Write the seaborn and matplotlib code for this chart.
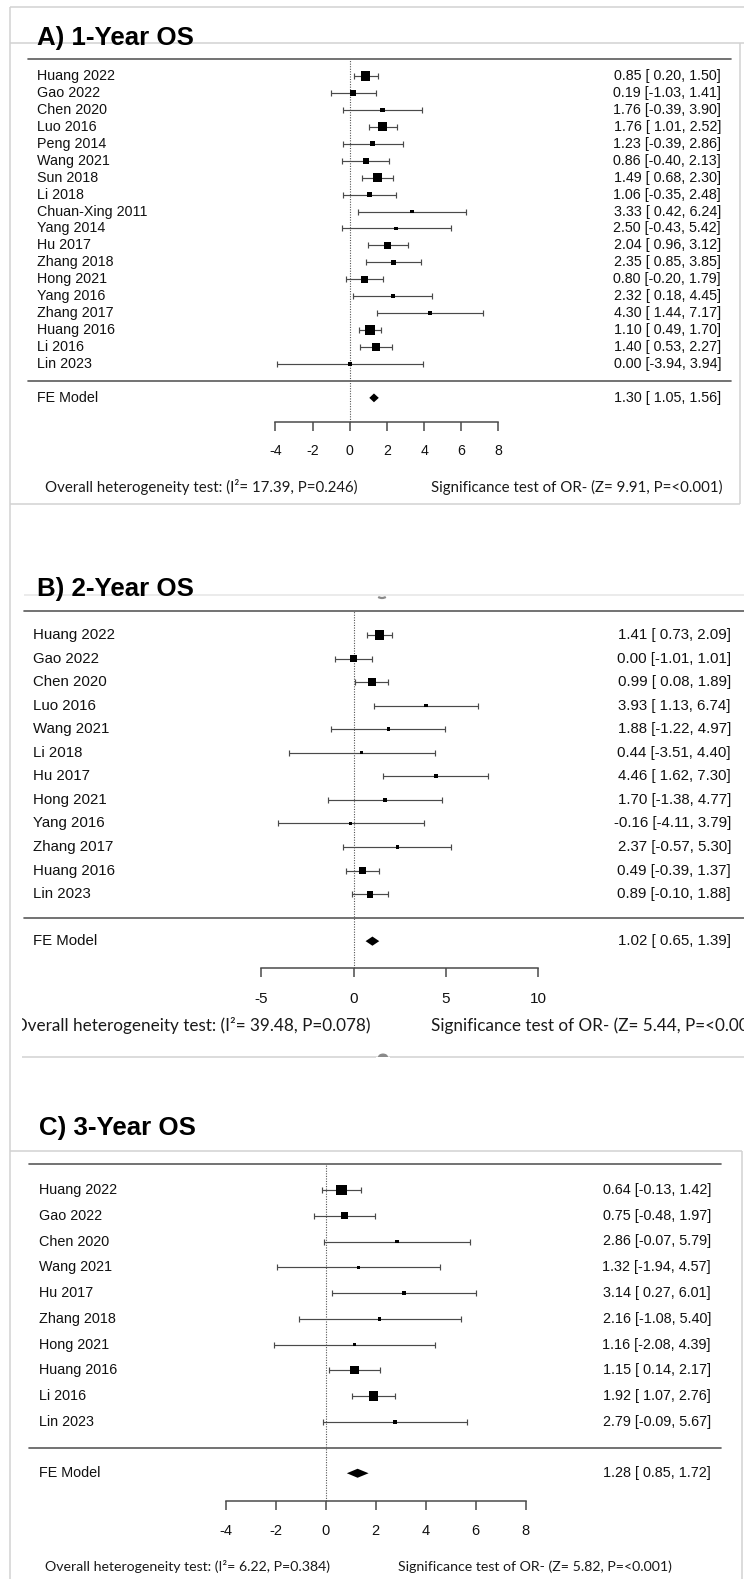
import numpy as np
import pandas as pd
import matplotlib
matplotlib.use("Agg")
import matplotlib.pyplot as plt
import matplotlib.transforms as mtransforms
from matplotlib.lines import Line2D
from matplotlib.patches import Arc, Wedge, Ellipse
from matplotlib.transforms import Bbox, TransformedBbox
import seaborn as sns

# ---------------- data ----------------
studies_1y = ["Huang 2022", "Gao 2022", "Chen 2020", "Luo 2016", "Peng 2014", "Wang 2021",
              "Sun 2018", "Li 2018", "Chuan-Xing 2011", "Yang 2014", "Hu 2017", "Zhang 2018",
              "Hong 2021", "Yang 2016", "Zhang 2017", "Huang 2016", "Li 2016", "Lin 2023"]
est_1y = [0.85, 0.19, 1.76, 1.76, 1.23, 0.86, 1.49, 1.06, 3.33, 2.50, 2.04, 2.35, 0.80, 2.32, 4.30, 1.10, 1.40, 0.00]
lb_1y = [0.20, -1.03, -0.39, 1.01, -0.39, -0.40, 0.68, -0.35, 0.42, -0.43, 0.96, 0.85, -0.20, 0.18, 1.44, 0.49, 0.53, -3.94]
ub_1y = [1.50, 1.41, 3.90, 2.52, 2.86, 2.13, 2.30, 2.48, 6.24, 5.42, 3.12, 3.85, 1.79, 4.45, 7.17, 1.70, 2.27, 3.94]
fe_1y = [1.30, 1.05, 1.56]
ticks_1y = [-4, -2, 0, 2, 4, 6, 8]

studies_2y = ["Huang 2022", "Gao 2022", "Chen 2020", "Luo 2016", "Wang 2021", "Li 2018",
              "Hu 2017", "Hong 2021", "Yang 2016", "Zhang 2017", "Huang 2016", "Lin 2023"]
est_2y = [1.41, 0.00, 0.99, 3.93, 1.88, 0.44, 4.46, 1.70, -0.16, 2.37, 0.49, 0.89]
lb_2y = [0.73, -1.01, 0.08, 1.13, -1.22, -3.51, 1.62, -1.38, -4.11, -0.57, -0.39, -0.10]
ub_2y = [2.09, 1.01, 1.89, 6.74, 4.97, 4.40, 7.30, 4.77, 3.79, 5.30, 1.37, 1.88]
fe_2y = [1.02, 0.65, 1.39]
ticks_2y = [-5, 0, 5, 10]

studies_3y = ["Huang 2022", "Gao 2022", "Chen 2020", "Wang 2021", "Hu 2017", "Zhang 2018",
              "Hong 2021", "Huang 2016", "Li 2016", "Lin 2023"]
est_3y = [0.64, 0.75, 2.86, 1.32, 3.14, 2.16, 1.16, 1.15, 1.92, 2.79]
lb_3y = [-0.13, -0.48, -0.07, -1.94, 0.27, -1.08, -2.08, 0.14, 1.07, -0.09]
ub_3y = [1.42, 1.97, 5.79, 4.57, 6.01, 5.40, 4.39, 2.17, 2.76, 5.67]
fe_3y = [1.28, 0.85, 1.72]
ticks_3y = [-4, -2, 0, 2, 4, 6, 8]

titles = ["A) 1-Year OS", "B) 2-Year OS", "C) 3-Year OS"]
summary_label = "FE Model"
i2_vals = ["17.39", "39.48", "6.22"]
p_het = ["0.246", "0.078", "0.384"]
z_vals = ["9.91", "5.44", "5.82"]
p_sig = ["<0.001", "<0.001", "<0.001"]

# ---------------- style ----------------
sns.set_style("white")
plt.rcParams["font.family"] = ["Liberation Sans", "DejaVu Sans"]
plt.rcParams["axes.unicode_minus"] = False

W, H = 744, 1579
fig = plt.figure(figsize=(W / 100, H / 100), dpi=100)
fig.patch.set_facecolor("white")
renderer = fig.canvas.get_renderer()

def fx(px):
    return px / W

def fy(py):
    return 1 - py / H

BOX = "#d2d2d2"
RULE = "#5a5a5a"
INK = "#111111"

def fig_line(x1, y1, x2, y2, color=BOX, lw=1.1, z=0):
    fig.add_artist(Line2D([fx(x1), fx(x2)], [fy(y1), fy(y2)], transform=fig.transFigure,
                          color=color, lw=lw, zorder=z, solid_capstyle="butt"))

# screenshot frame lines
fig_line(10, 6.5, 744, 6.5)
fig_line(10, 43, 744, 43)
fig_line(10, 6.5, 10, 1579)
fig_line(740, 43, 740, 503.5)
fig_line(10, 503.5, 740, 503.5)
fig_line(24, 594.5, 744, 594.5, color="#e6e6e6")
fig_line(22, 1056.7, 744, 1056.7)
fig_line(10, 1150.7, 741.7, 1150.7)
fig_line(741.7, 1150.7, 741.7, 1579)
# small UI artefacts
fig.add_artist(Arc((fx(382), fy(594)), 11 / W, 8 / H, theta1=200, theta2=340,
                   transform=fig.transFigure, color="#8a8a8a", lw=1.6))
fig.add_artist(Ellipse((fx(383), fy(1057)), 10 / W, 7 / H, transform=fig.transFigure,
                       color="#8a8a8a", lw=0))
fig.add_artist(matplotlib.patches.Rectangle((fx(376), fy(1062)), 14 / W, 5 / H,
                                            transform=fig.transFigure, color="white", lw=0))

def fit_size(text, target_px, family, weight="normal", base=10.0):
    t = fig.text(0, 0, text, fontsize=base, family=family, weight=weight)
    w = t.get_window_extent(renderer).width
    t.remove()
    return base * target_px / w

panels = [
    dict(studies=studies_1y, est=est_1y, lb=lb_1y, ub=ub_1y, fe=fe_1y, ticks=ticks_1y,
         zero=349.8, unit=18.58, row0=76.0, step=16.94, axis_px=421.5,
         label_x=37, num_r=721, rule=(28, 731), title_xy=(37, 44.5),
         foot_y=487, foot_l=(45, "left"), foot_r=431, foot_w=313, clip=(10, 740),
         dia_px=4.4, base_px=6.9, fs=10.3, tfs=10.2, pad=10.2, tlen=6.2),
    dict(studies=studies_2y, est=est_2y, lb=lb_2y, ub=ub_2y, fe=fe_2y, ticks=ticks_2y,
         zero=353.6, unit=18.45, row0=635.0, step=23.55, axis_px=967.5,
         label_x=33, num_r=731, rule=(24, 744), title_xy=(37, 595.5),
         foot_y=1025.5, foot_l=(371, "right"), foot_r=431, foot_w=356, clip=(22, 744),
         dia_px=4.6, base_px=6.2, fs=10.8, tfs=11.0, pad=10.8, tlen=6.8),
    dict(studies=studies_3y, est=est_3y, lb=lb_3y, ub=ub_3y, fe=fe_3y, ticks=ticks_3y,
         zero=325.6, unit=24.99, row0=1190.0, step=25.75, axis_px=1500.5,
         label_x=39, num_r=711, rule=(29, 721), title_xy=(39, 1134.5),
         foot_y=1566.5, foot_l=(45, "left"), foot_r=398, foot_w=286, clip=(10, 741),
         dia_px=4.5, base_px=7.0, fs=10.4, tfs=10.5, pad=10.3, tlen=6.5),
]

title_fs = fit_size(titles[0], 157, ["Liberation Sans"], weight="bold", base=17)

for i, p in enumerate(panels):
    k = len(p["studies"])
    top_px = p["row0"] - p["step"]          # row -1 (top rule)
    bot_px = p["axis_px"]
    ax = fig.add_axes([0, fy(bot_px), 1, (bot_px - top_px) / H])
    ax.patch.set_alpha(0)

    df = pd.DataFrame({"study": p["studies"], "est": p["est"], "lb": p["lb"], "ub": p["ub"]})
    df["row"] = np.arange(k)
    # metafor-style point sizes: proportional to 1/SE, rescaled to [0.5, 1.5]
    wi = 1.0 / (df["ub"] - df["lb"])
    psize = 0.5 + (wi - wi.min()) / (wi.max() - wi.min())
    df["psq"] = psize ** 2
    base_pt = p["base_px"] * 0.72

    ax.errorbar(df["est"], df["row"], xerr=[df["est"] - df["lb"], df["ub"] - df["est"]],
                fmt="none", ecolor="#4a4a4a", elinewidth=0.85, capsize=2.1, capthick=0.85, zorder=2)
    sns.scatterplot(data=df, x="est", y="row", size="psq",
                    sizes=((0.5 * base_pt) ** 2, (1.5 * base_pt) ** 2),
                    marker="s", color="black", linewidth=0, legend=False, ax=ax, zorder=3)
    ax.set_xlabel("")
    ax.set_ylabel("")

    # summary diamond
    fe_est, fe_lb, fe_ub = p["fe"]
    fe_row = k + 1
    h = p["dia_px"] / p["step"]
    ax.fill([fe_lb, fe_est, fe_ub, fe_est], [fe_row, fe_row - h, fe_row, fe_row + h],
            color="black", lw=0, zorder=3)

    # zero reference line
    ax.axvline(0, color="#555555", lw=0.8, ls=(0, (1, 1.3)), zorder=1)

    # limits mapping data to pixel positions
    ax.set_xlim((0 - p["zero"]) / p["unit"], (W - p["zero"]) / p["unit"])
    ax.set_ylim((bot_px - p["row0"]) / p["step"], -1)

    for s in ["top", "left", "right"]:
        ax.spines[s].set_visible(False)
    ax.spines["bottom"].set_bounds(p["ticks"][0], p["ticks"][-1])
    ax.spines["bottom"].set_color("#4a4a4a")
    ax.spines["bottom"].set_linewidth(1.1)
    ax.set_yticks([])
    ax.set_xticks(p["ticks"])
    ax.set_xticklabels([str(t) for t in p["ticks"]])
    ax.tick_params(axis="x", direction="out", length=p["tlen"], width=1.1, color="#4a4a4a",
                   labelsize=p["tfs"], pad=p["pad"], labelcolor=INK, bottom=True)

    blend = mtransforms.blended_transform_factory(fig.transFigure, ax.transData)
    # rules
    for r in (-1, k):
        ax.add_line(Line2D([fx(p["rule"][0]), fx(p["rule"][1])], [r, r], transform=blend,
                           color=RULE, lw=1.2, clip_on=False, zorder=1))
    # row labels and estimates
    for _, row in df.iterrows():
        ax.text(fx(p["label_x"]), row["row"], row["study"], transform=blend, ha="left",
                va="center", fontsize=p["fs"], color=INK, clip_on=False)
        txt = f"{row['est']:.2f} [{row['lb']:5.2f}, {row['ub']:.2f}]"
        ax.text(fx(p["num_r"]), row["row"], txt, transform=blend, ha="right",
                va="center", fontsize=p["fs"], color=INK, clip_on=False)
    ax.text(fx(p["label_x"]), fe_row, summary_label, transform=blend, ha="left", va="center",
            fontsize=p["fs"], color=INK, clip_on=False)
    ax.text(fx(p["num_r"]), fe_row, f"{fe_est:.2f} [{fe_lb:5.2f}, {fe_ub:.2f}]", transform=blend,
            ha="right", va="center", fontsize=p["fs"], color=INK, clip_on=False)

    # title
    fig.text(fx(p["title_xy"][0]), fy(p["title_xy"][1]), titles[i], fontsize=title_fs,
             weight="bold", va="baseline", ha="left", color="#000000")

    # footer (panel B's screenshot crops this line at both edges, as in the source)
    left_txt = f"Overall heterogeneity test: (I\u00b2= {i2_vals[i]}, P={p_het[i]})"
    right_txt = f"Significance test of OR- (Z= {z_vals[i]}, P={p_sig[i]})"
    ffs = fit_size(left_txt, p["foot_w"], ["Lato"])
    clipbox = TransformedBbox(Bbox.from_extents(fx(p["clip"][0]), 0, fx(p["clip"][1]), 1),
                              fig.transFigure)
    for xx, ha, t in [(p["foot_l"][0], p["foot_l"][1], left_txt), (p["foot_r"], "left", right_txt)]:
        tt = fig.text(fx(xx), fy(p["foot_y"]), t, fontsize=ffs, family=["Lato", "DejaVu Sans"],
                      ha=ha, va="center", color="#1a1a1a")
        tt.set_clip_on(True)
        tt.set_clip_box(clipbox)

fig.savefig("out.png", dpi=100, facecolor="white")
